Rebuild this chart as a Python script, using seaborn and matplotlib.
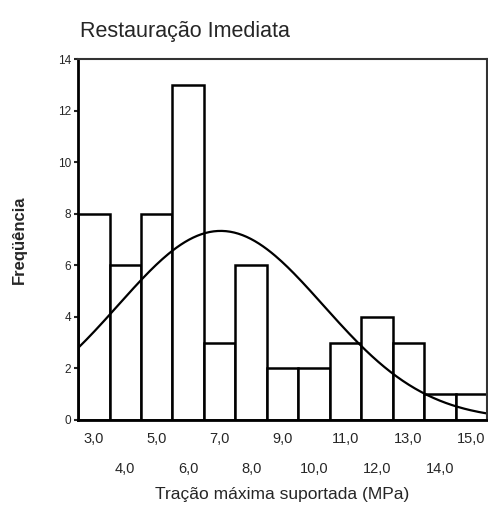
import numpy as np
import pandas as pd
import matplotlib
matplotlib.use("Agg")
import matplotlib.pyplot as plt
import seaborn as sns

# bin centres (MPa) and counts
centres = [3.0, 4.0, 5.0, 6.0, 7.0, 8.0, 9.0, 10.0, 11.0, 12.0, 13.0, 14.0, 15.0]
counts = [8, 6, 8, 13, 3, 6, 2, 2, 3, 4, 3, 1, 1]
tick_labels = ["3,0", "4,0", "5,0", "6,0", "7,0", "8,0", "9,0",
               "10,0", "11,0", "12,0", "13,0", "14,0", "15,0"]

sns.set_theme(style="white")
plt.rcParams['font.family'] = ['Liberation Sans', 'DejaVu Sans']

df = pd.DataFrame({"centre": centres, "count": counts})

fig = plt.figure(figsize=(4.88, 5.15), dpi=100)
ax = fig.add_axes([0.16, 0.1845, 0.838, 0.7005])

sns.histplot(data=df, x="centre", weights="count", binwidth=1.0, binrange=(2.5, 15.5),
             color="white", edgecolor="black", linewidth=1.8, alpha=1, ax=ax)

# normal curve fitted to the binned values
vals = np.repeat(centres, counts)
mu, sd = vals.mean(), vals.std(ddof=1)
xs = np.linspace(2.5, 15.5, 200)
ys = len(vals) * 1.0 * np.exp(-0.5 * ((xs - mu) / sd) ** 2) / (sd * np.sqrt(2 * np.pi))
sns.lineplot(x=xs, y=ys, color="black", linewidth=1.6, ax=ax)

ax.set_xlim(2.5, 15.5)
ax.set_ylim(0, 14)
ax.set_yticks(range(0, 15, 2))
ax.set_yticklabels([str(v) for v in range(0, 15, 2)], fontsize=8.5)
ax.set_xticks(centres)
ax.set_xticklabels([lab if i % 2 == 0 else "\n" + lab for i, lab in enumerate(tick_labels)],
                   fontsize=10.5, linespacing=2.4)
ax.tick_params(axis="y", direction="out", length=3, width=1.5, pad=2, left=True)
ax.tick_params(axis="x", length=0, pad=9)

for side in ["left", "bottom"]:
    ax.spines[side].set_linewidth(2)
    ax.spines[side].set_color("black")
for side in ["top", "right"]:
    ax.spines[side].set_linewidth(1.5)
    ax.spines[side].set_color("#333333")

ax.set_ylabel("Freqüência", fontsize=12, fontweight="bold", labelpad=22)
ax.set_xlabel("Tração máxima suportada (MPa)", fontsize=12.5, labelpad=8)
fig.text(0.163, 0.928, "Restauração Imediata", fontsize=15.5)

fig.savefig("out.png", dpi=100)
